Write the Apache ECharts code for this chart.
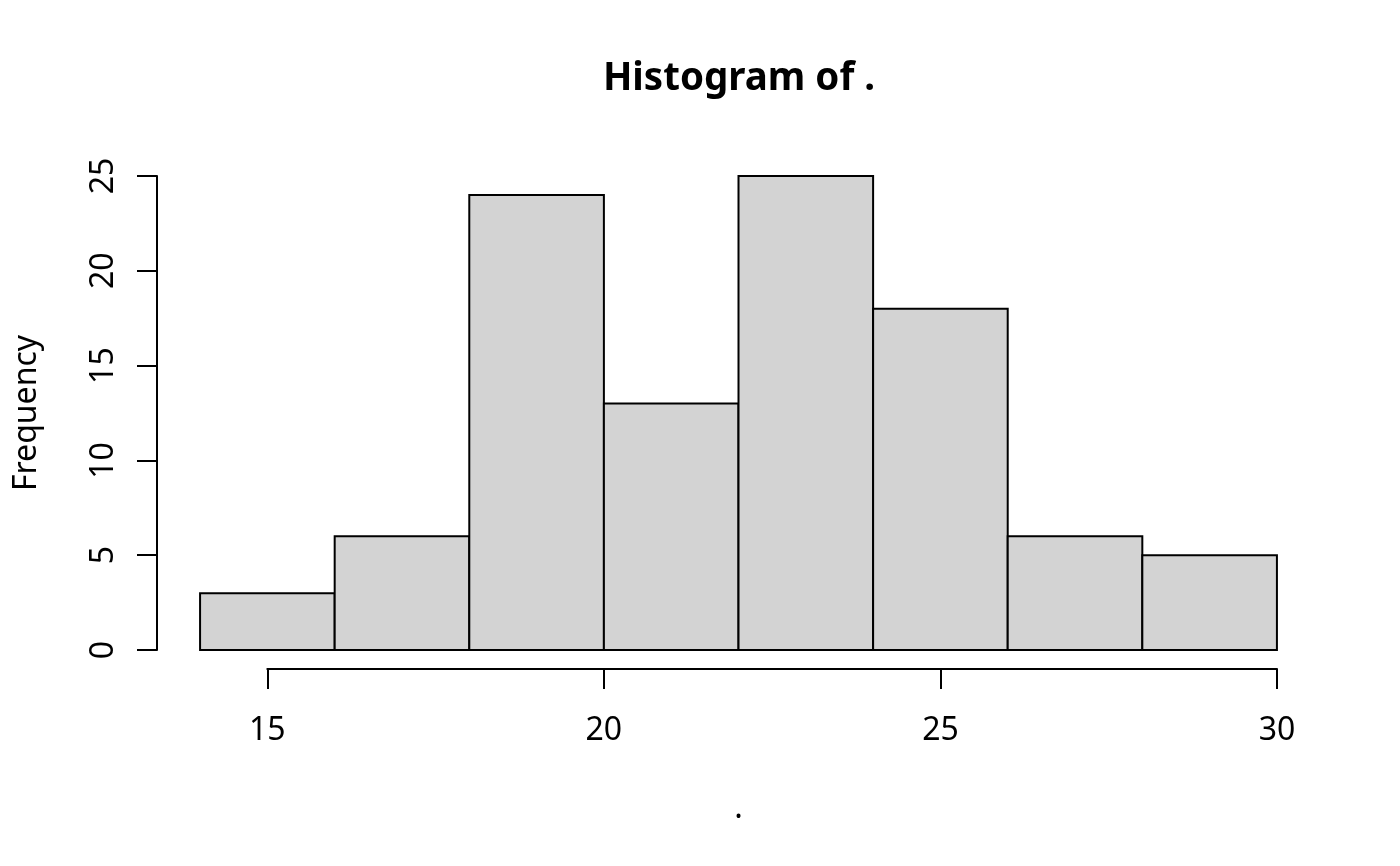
<!DOCTYPE html>
<html>
<head>
<meta charset="utf-8">
<script src="https://cdn.jsdelivr.net/npm/echarts@6/dist/echarts.min.js"></script>
<style>html,body{margin:0;padding:0;background:#fff;}#c{width:1400px;height:866px;}</style>
</head>
<body>
<div id="c"></div>
<script>
var breaks = [14, 16, 18, 20, 22, 24, 26, 28, 30];
var counts = [3, 6, 24, 13, 25, 18, 6, 5];
var titleText = 'Histogram of .';
var xLabel = '.';
var yLabel = 'Frequency';

var FONT = '"Noto Sans", "Open Sans", sans-serif';
var bins = counts.map(function (c, i) { return [breaks[i], breaks[i + 1], c]; });

var chart = echarts.init(document.getElementById('c'), null, { renderer: 'canvas' });
var hiddenAxis = { show: true, axisLine: { show: false }, axisTick: { show: false }, axisLabel: { show: false }, splitLine: { show: false } };

chart.setOption({
  animation: false,
  backgroundColor: '#ffffff',
  title: {
    text: titleText, left: 734, top: 55, textAlign: 'center',
    textStyle: { fontFamily: FONT, fontSize: 38.5, fontWeight: 'bold', color: '#000' }
  },
  grid: [
    { left: 157, right: 80, top: 157, bottom: 197 },
    { left: 267.3, right: 123, top: 157, bottom: 197 },
    { left: 157, right: 80, top: 176, bottom: 216 }
  ],
  xAxis: [
    Object.assign({}, hiddenAxis, { gridIndex: 0, type: 'value', min: 13.36, max: 30.64,
      name: xLabel, nameLocation: 'middle', nameGap: 124,
      nameTextStyle: { fontFamily: FONT, fontSize: 32, color: '#000' } }),
    { gridIndex: 1, type: 'value', min: 15, max: 30, interval: 5, position: 'bottom',
      axisLine: { show: true, lineStyle: { color: '#000', width: 2 } },
      axisTick: { show: true, length: 20, lineStyle: { color: '#000', width: 2 } },
      axisLabel: { show: true, margin: 46, fontFamily: FONT, fontSize: 32, color: '#000', showMinLabel: true, showMaxLabel: true },
      splitLine: { show: false } },
    Object.assign({}, hiddenAxis, { gridIndex: 2, type: 'value', min: 13.36, max: 30.64, show: false })
  ],
  yAxis: [
    Object.assign({}, hiddenAxis, { gridIndex: 0, type: 'value', min: -1, max: 26,
      name: yLabel, nameLocation: 'middle', nameGap: 114, nameRotate: 90,
      nameTextStyle: { fontFamily: FONT, fontSize: 32, color: '#000' } }),
    Object.assign({}, hiddenAxis, { gridIndex: 1, type: 'value', min: 0, max: 25, show: false }),
    { gridIndex: 2, type: 'value', min: 0, max: 25, interval: 5, position: 'left',
      axisLine: { show: true, lineStyle: { color: '#000', width: 2 } },
      axisTick: { show: true, length: 20, lineStyle: { color: '#000', width: 2 } },
      axisLabel: { show: true, margin: 37, rotate: 90, fontFamily: FONT, fontSize: 32, color: '#000', showMinLabel: true, showMaxLabel: true },
      splitLine: { show: false } }
  ],
  series: [{
    type: 'custom',
    xAxisIndex: 0, yAxisIndex: 0,
    data: bins,
    encode: { x: [0, 1], y: 2 },
    renderItem: function (params, api) {
      var p0 = api.coord([api.value(0), api.value(2)]);
      var p1 = api.coord([api.value(1), 0]);
      return {
        type: 'rect',
        shape: { x: p0[0], y: p0[1], width: p1[0] - p0[0], height: p1[1] - p0[1] },
        style: { fill: '#d3d3d3', stroke: '#000', lineWidth: 2 }
      };
    }
  }]
});
</script>
</body>
</html>
